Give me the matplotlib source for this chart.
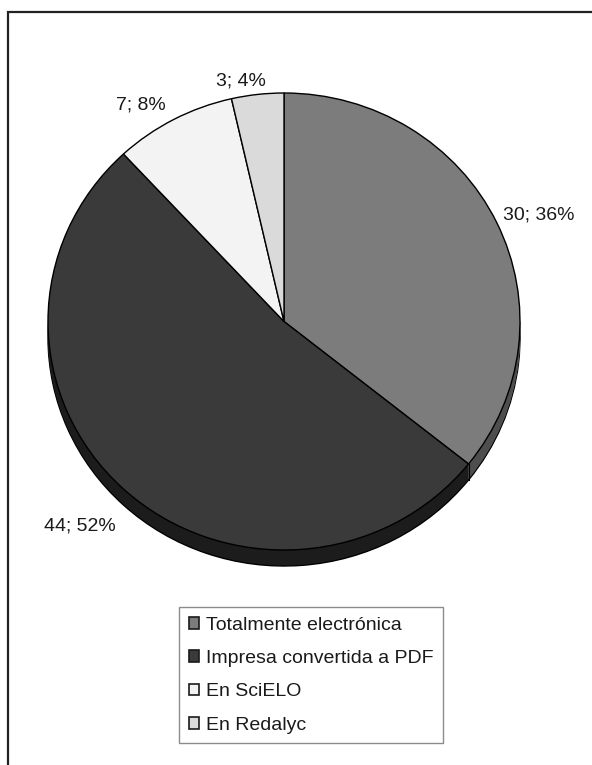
#!/usr/bin/env python3

import matplotlib
matplotlib.use('Agg')
from matplotlib import pyplot as plt
from matplotlib.patches import Patch, Rectangle
import numpy as np

plt.rcParams['font.family'] = ['Liberation Sans', 'DejaVu Sans']

CATEGORIES = ['Totalmente electrónica', 'Impresa convertida a PDF', 'En SciELO', 'En Redalyc']
COUNTS = [30, 44, 7, 3]

COLORS_TOP = ['#7c7c7c', '#3a3a3a', '#f3f3f3', '#dadada']
COLORS_SIDE = ['#4e4e4e', '#1c1c1c', '#b5b5b5', '#a0a0a0']
COLOR_TEXT = '#1a1a1a'

W, H = 592, 765
DPI = 100
FONT_SIZE = 14


def px_box(left, top, right, bottom):
    # pixel box (origin top-left) -> figure fraction rect
    return [left / W, 1 - bottom / H, (right - left) / W, (bottom - top) / H]


fig = plt.figure(figsize=(W / DPI, H / DPI), dpi=DPI)

# outer frame, only top and left sides fall inside the image
fig.add_artist(Rectangle((8 / W, -0.1), 1.2, 1 - 12 / H + 0.1, transform=fig.transFigure,
                         fill=False, edgecolor='#222222', linewidth=1.6))

# axes box is the top face of the pie, so the unit circle becomes the ellipse
ax = fig.add_axes(px_box(48, 93, 520, 550))

total = sum(COUNTS)
labels = ['%d; %d%%' % (v, round(100 * v / total)) for v in COUNTS]

DEPTH = 16 * 2 / 457
N_LAYERS = 16

# side of the disc: stack of darker pies, lowest one outlined
for i in range(N_LAYERS, 0, -1):
    d = DEPTH * i / N_LAYERS
    outlined = i == N_LAYERS
    ax.pie(COUNTS, colors=COLORS_SIDE, startangle=90, counterclock=False,
           center=(0, -d), frame=True,
           wedgeprops=dict(linewidth=1.0 if outlined else 0,
                           edgecolor='black' if outlined else 'none'))

# vertical seam on the side where the first slice ends
theta = np.deg2rad(90 - 360 * COUNTS[0] / total)
ax.plot([np.cos(theta)] * 2, [np.sin(theta), np.sin(theta) - DEPTH],
        color='black', linewidth=0.8, clip_on=False)

wedges, texts = ax.pie(COUNTS, colors=COLORS_TOP, startangle=90, counterclock=False,
                       labels=labels, labeldistance=1.05, frame=True,
                       wedgeprops=dict(linewidth=1.0, edgecolor='black'),
                       textprops=dict(fontsize=FONT_SIZE, color=COLOR_TEXT))

for t in texts:
    x, y = t.get_position()
    if y < 0:
        t.set_position((x, y - DEPTH * 1.8))
    elif abs(x) < 0.3:
        # labels near the top sit almost centred over their slice
        t.set_position((x + 0.04, y + 0.01))
    elif y > 0.8:
        t.set_position((x - 0.01, y + 0.02))
    else:
        t.set_position((x - 0.02, y + 0.01))

ax.set_xlim(-1, 1)
ax.set_ylim(-1, 1)
ax.set_aspect('auto')
ax.axis('off')

handles = [Patch(facecolor=c, edgecolor='#1a1a1a', linewidth=1.2) for c in COLORS_TOP]
leg = fig.legend(handles, CATEGORIES, loc='upper left',
                 bbox_to_anchor=(179 / W, 1 - 607 / H), bbox_transform=fig.transFigure,
                 borderaxespad=0, borderpad=0.5, labelspacing=0.84,
                 handlelength=0.55, handleheight=0.55, handletextpad=0.35,
                 fontsize=FONT_SIZE, fancybox=False, framealpha=1,
                 edgecolor='#8c8c8c')
leg.get_frame().set_linewidth(1.0)
for t in leg.get_texts():
    t.set_color(COLOR_TEXT)

fig.savefig('out.png', dpi=DPI)
